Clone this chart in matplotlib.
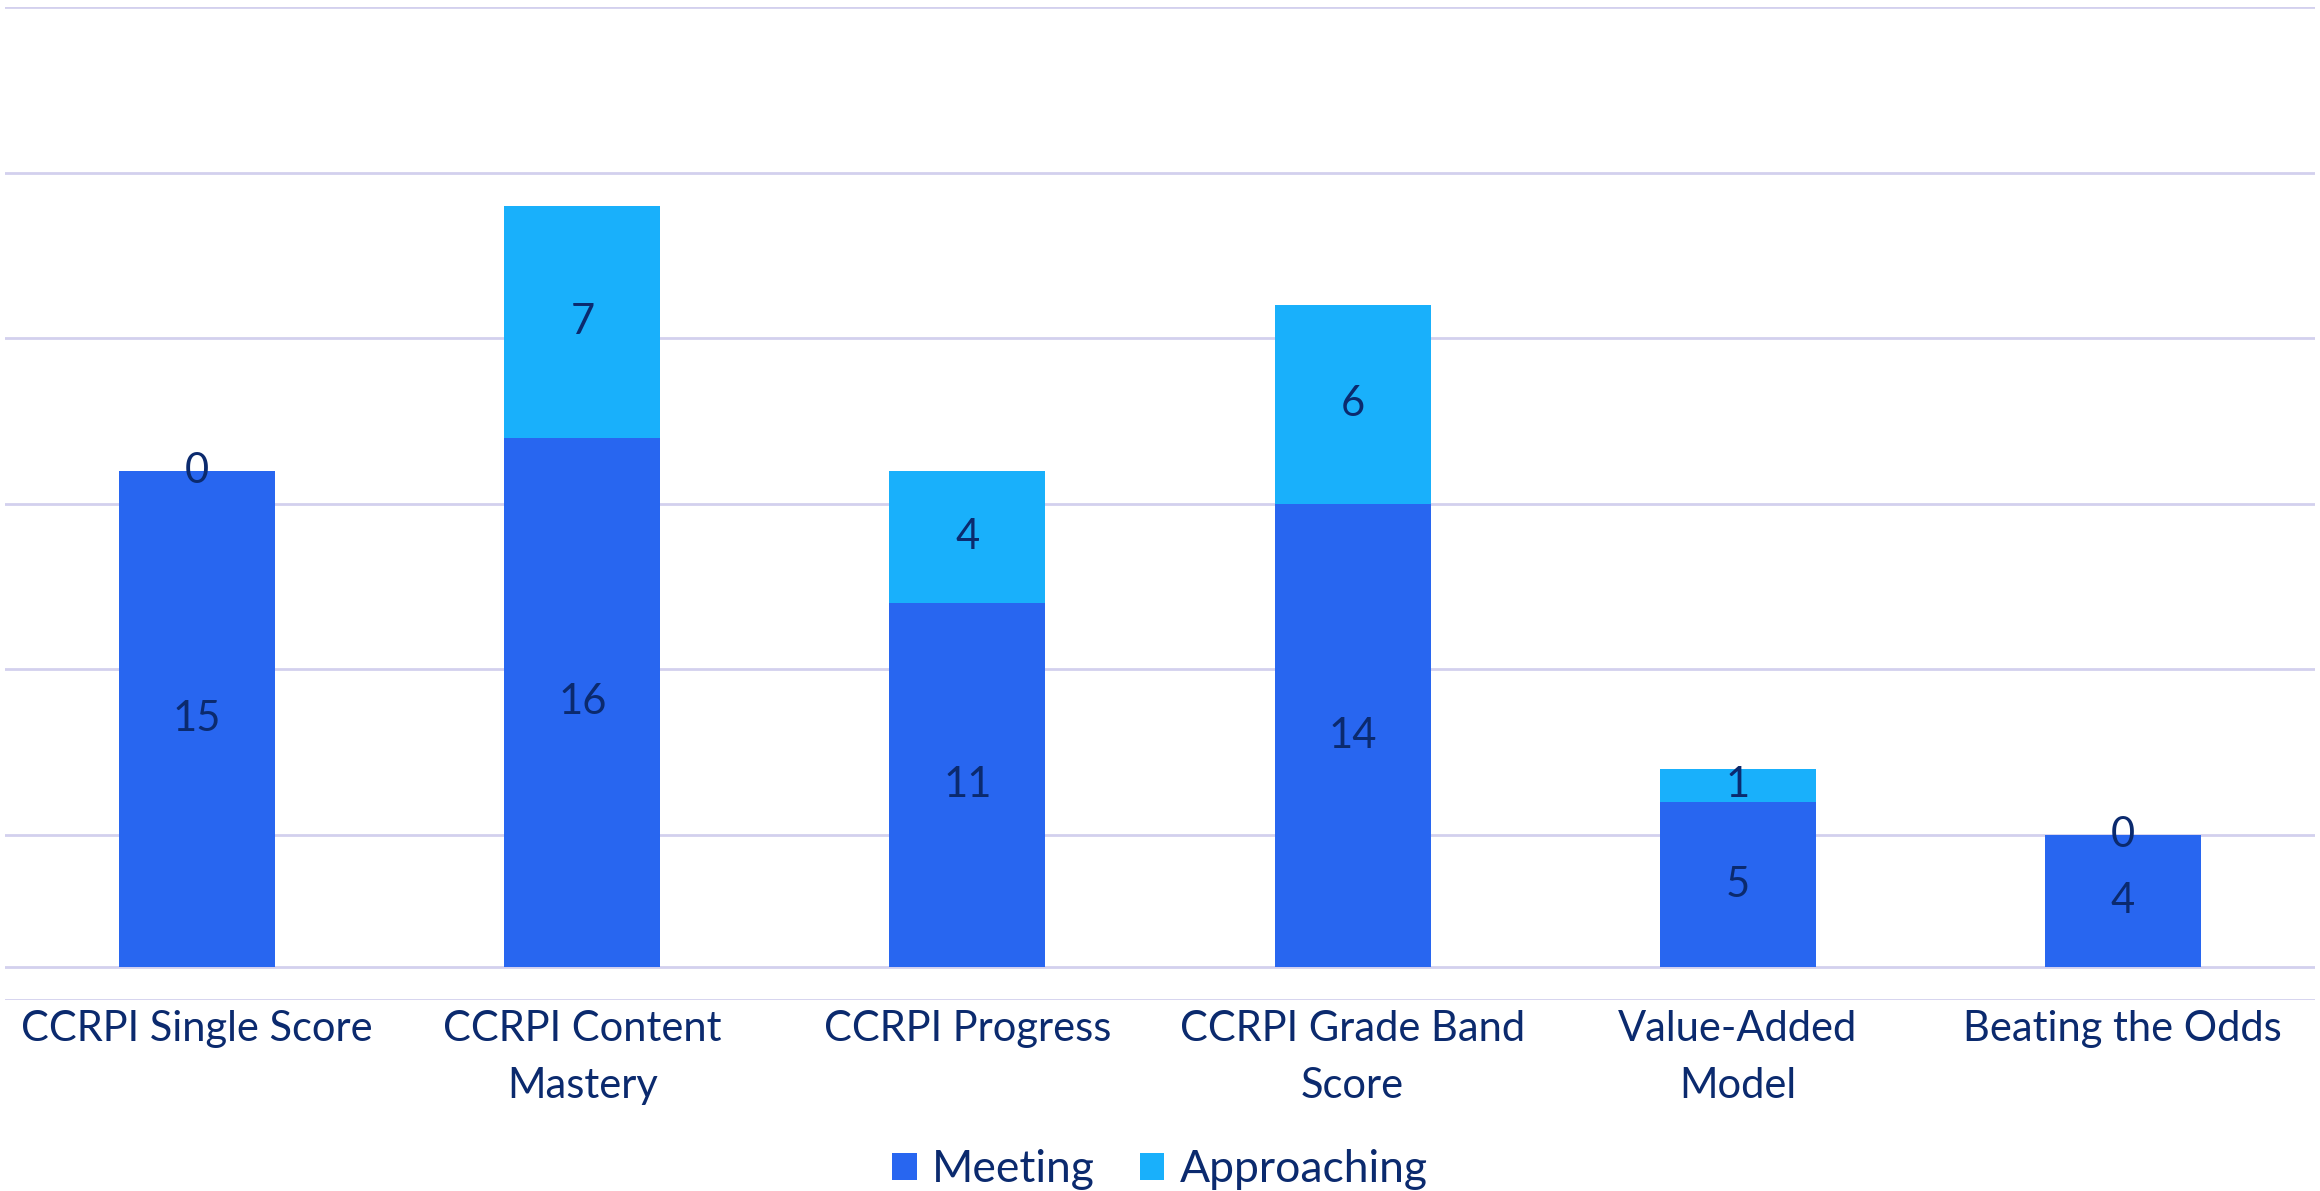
import numpy as np
import matplotlib
matplotlib.use('Agg')
import matplotlib.pyplot as plt

plt.rcParams['font.family'] = ['Lato', 'DejaVu Sans']

# data
categories = ['CCRPI Single Score', 'CCRPI Content\nMastery', 'CCRPI Progress',
              'CCRPI Grade Band\nScore', 'Value-Added\nModel', 'Beating the Odds']
meeting = [15, 16, 11, 14, 5, 4]
approaching = [0, 7, 4, 6, 1, 0]

c_meet = '#2866F0'
c_appr = '#19B0FB'
c_text = '#0B2A6E'
c_grid = '#D3D0EE'
fs = 30

fig = plt.figure(figsize=(23.2, 11.91), dpi=100)
ax = fig.add_axes([0.002, 0.160, 0.996, 0.834])

x = np.arange(len(categories))
w = 0.405
b1 = ax.bar(x, meeting, w, color=c_meet, label='Meeting', zorder=3)
b2 = ax.bar(x, approaching, w, bottom=meeting, color=c_appr, label='Approaching', zorder=3)

# value labels centred in each segment
for i in range(len(x)):
    ax.text(x[i], meeting[i] / 2, str(meeting[i]), ha='center', va='center',
            fontsize=fs, color=c_text, zorder=4)
    ax.text(x[i], meeting[i] + approaching[i] / 2, str(approaching[i]), ha='center',
            va='center', fontsize=fs, color=c_text, zorder=4)

ax.set_xlim(-0.5, len(categories) - 0.5)
ax.set_ylim(-1, 29)
ax.set_yticks(np.arange(-1, 30, 5))
ax.yaxis.grid(True, color=c_grid, linewidth=2, zorder=0)
ax.axhline(0, color=c_grid, linewidth=2, zorder=1)
ax.tick_params(axis='y', left=False, labelleft=False)
ax.set_xticks(x)
ax.set_xticklabels(categories, fontsize=fs, color=c_text, linespacing=1.6)
ax.tick_params(axis='x', length=0, pad=7)
for s in ax.spines.values():
    s.set_visible(False)

fig.legend(handles=[b1, b2], loc='center', bbox_to_anchor=(0.5, 0.018), ncol=2,
           frameon=False, fontsize=32, labelcolor=c_text, handlelength=0.55,
           handleheight=0.55, handletextpad=0.35, columnspacing=1.0)

fig.savefig('out.png', dpi=100)
